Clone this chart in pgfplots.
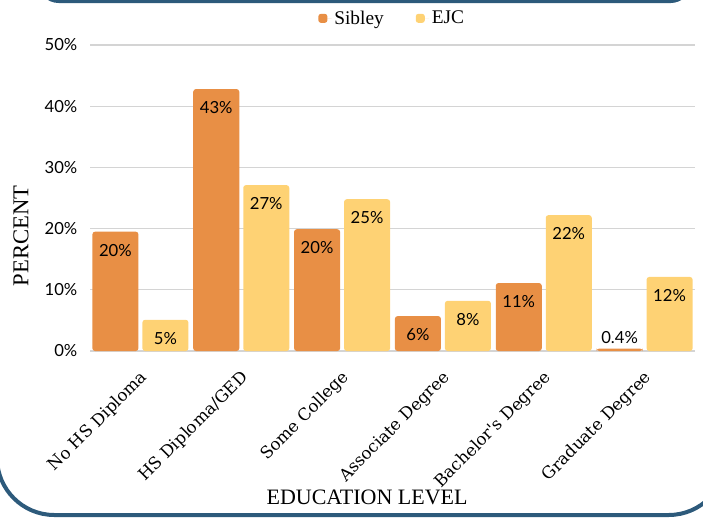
\documentclass[border=0pt]{standalone}
\usepackage{pgfplots}
\pgfplotsset{compat=1.18}
\usepackage{fontspec}
\setmainfont{Liberation Serif}
\newfontfamily\numfont{Lato}
\newfontfamily\catfont{DejaVu Serif}

\definecolor{sibley}{HTML}{E88F45}
\definecolor{ejc}{HTML}{FED274}
\definecolor{frame}{HTML}{2D5A7B}
\definecolor{gridgray}{HTML}{D4D4D4}

\begin{document}
\begin{tikzpicture}
% page is 703 x 518 px, 1px = 0.75pt, origin at top left
\useasboundingbox (0,0) rectangle (527.25pt,-388.5pt);
\begin{scope}
  \clip (0,0) rectangle (527.25pt,-388.5pt);
  \draw[frame, line width=3pt, rounded corners=14pt] (30pt,30pt) rectangle (517pt,-0.75pt);
  \draw[frame, line width=3pt, rounded corners=43pt] (-2.25pt,100pt) rectangle (544.5pt,-386.25pt);
\end{scope}

\begin{axis}[
  at={(67.5pt,-263.25pt)}, anchor=south west,
  scale only axis,
  width=453.75pt, height=229.5pt,
  ybar=3pt, bar width=34.5pt,
  xmin=-0.5, xmax=5.5,
  ymin=0, ymax=50,
  xtick={0,...,5},
  xticklabels={No HS Diploma, HS Diploma/GED, Some College, Associate Degree, Bachelor's Degree, Graduate Degree},
  xticklabel style={font=\catfont\fontsize{12.5}{14}\selectfont, rotate=45, anchor=east, xshift=-7pt, yshift=-15pt},
  ytick={0,10,...,50},
  yticklabel={\pgfmathprintnumber{\tick}\%},
  yticklabel style={font=\numfont\fontsize{12.5}{14}\selectfont, black, xshift=-6pt},
  /pgf/number format/assume math mode=true,
  major tick length=0pt,
  axis y line*=left,
  y axis line style={draw=none},
  axis x line*=bottom,
  x axis line style={gridgray, line width=0.8pt, -},
  ymajorgrids, grid style={gridgray, line width=0.8pt},
  ylabel={PERCENT},
  ylabel style={at={(axis description cs:-0.114,0.376)}, anchor=center, font=\fontsize{17}{19}\selectfont},
  xlabel={EDUCATION LEVEL},
  xlabel style={at={(axis description cs:0.458,-0.477)}, anchor=center, font=\fontsize{16.5}{18}\selectfont},
  legend columns=2,
  legend style={at={(0.5,1)}, anchor=center, yshift=20pt, draw=none, fill=none,
    font=\fontsize{14.5}{16}\selectfont,
    /tikz/every even column/.append style={column sep=22pt}},
  every axis plot post/.append style={
    legend image code/.code={\fill[##1] (0pt,-3.4pt) rectangle (6.8pt,3.4pt); \path (0pt,0pt) -- (10pt,0pt);}},
  point meta=explicit symbolic,
  nodes near coords,
  visualization depends on={y \as \rawy},
  every node near coord/.append style={font=\numfont\fontsize{12.5}{14}\selectfont, black,
    anchor=south, yshift={\rawy<2 ? 0pt : -22pt}},
]
\addplot[fill=sibley, draw=none, rounded corners=2pt] coordinates {
  (0,19.5)[20\%] (1,42.8)[43\%] (2,19.9)[20\%] (3,5.7)[6\%] (4,11.1)[11\%] (5,0.4)[0.4\%]
};
\addplot[fill=ejc, draw=none, rounded corners=2pt] coordinates {
  (0,5.1)[5\%] (1,27.1)[27\%] (2,24.8)[25\%] (3,8.2)[8\%] (4,22.2)[22\%] (5,12.1)[12\%]
};
\legend{Sibley, EJC}
\end{axis}
\end{tikzpicture}
\end{document}
